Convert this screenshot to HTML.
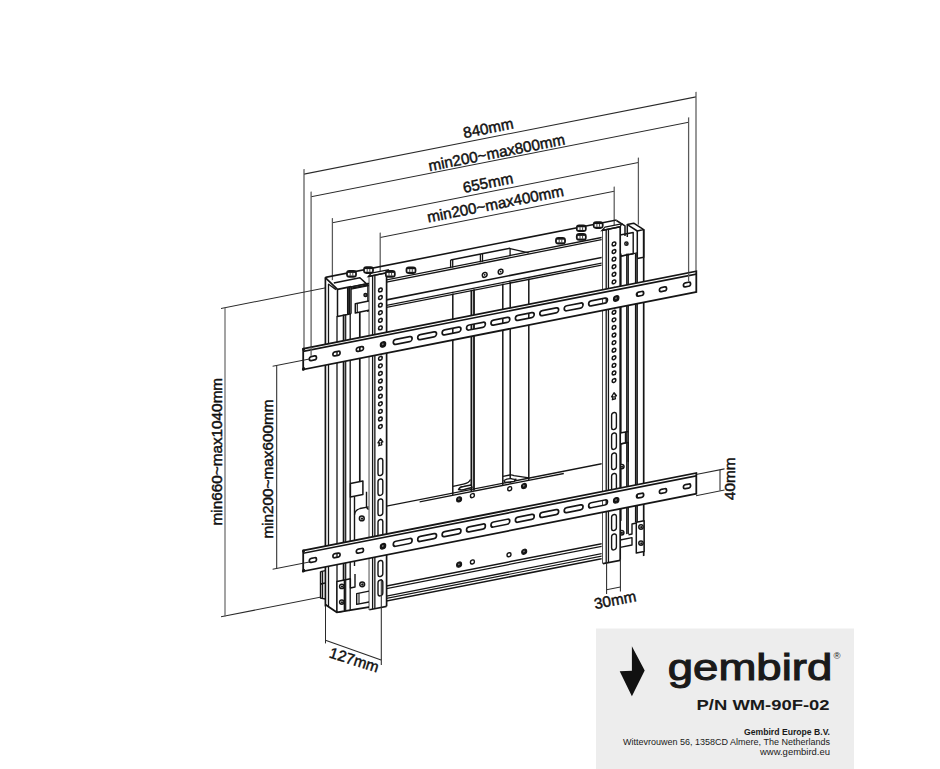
<!DOCTYPE html>
<html><head><meta charset="utf-8"><style>
html,body{margin:0;padding:0;background:#fff;width:940px;height:769px;overflow:hidden}
svg{display:block;font-family:"Liberation Sans",sans-serif}
</style></head><body>
<svg width="940" height="769" viewBox="0 0 940 769">
<rect width="940" height="769" fill="#fff"/>
<g transform="matrix(1,-0.197,0,1,0,0)" fill="none">
<line x1="304.00" y1="234.00" x2="696.00" y2="234.00" stroke="#2a2a2a" stroke-width="1.05"/>
<line x1="304.00" y1="229.00" x2="304.00" y2="408.50" stroke="#5a5a5a" stroke-width="1.25"/>
<line x1="696.00" y1="229.00" x2="696.00" y2="409.00" stroke="#5a5a5a" stroke-width="1.25"/>
<line x1="311.10" y1="258.00" x2="688.60" y2="258.00" stroke="#2a2a2a" stroke-width="1.05"/>
<line x1="311.10" y1="253.00" x2="311.10" y2="417.00" stroke="#5a5a5a" stroke-width="1.25"/>
<line x1="688.60" y1="253.00" x2="688.60" y2="417.00" stroke="#5a5a5a" stroke-width="1.25"/>
<line x1="332.40" y1="288.30" x2="638.40" y2="288.30" stroke="#2a2a2a" stroke-width="1.05"/>
<line x1="332.40" y1="283.50" x2="332.40" y2="345.50" stroke="#5a5a5a" stroke-width="1.25"/>
<line x1="638.40" y1="283.50" x2="638.40" y2="350.40" stroke="#5a5a5a" stroke-width="1.25"/>
<line x1="380.20" y1="312.30" x2="614.20" y2="312.30" stroke="#2a2a2a" stroke-width="1.05"/>
<line x1="380.20" y1="307.50" x2="380.20" y2="362.50" stroke="#5a5a5a" stroke-width="1.25"/>
<line x1="614.20" y1="307.50" x2="614.20" y2="362.50" stroke="#5a5a5a" stroke-width="1.25"/>
<line x1="221.00" y1="352.00" x2="326.00" y2="352.00" stroke="#2a2a2a" stroke-width="1.05"/>
<line x1="221.00" y1="660.30" x2="320.00" y2="660.30" stroke="#2a2a2a" stroke-width="1.05"/>
<line x1="272.60" y1="420.00" x2="303.00" y2="420.00" stroke="#2a2a2a" stroke-width="1.05"/>
<line x1="272.60" y1="623.00" x2="303.00" y2="623.00" stroke="#2a2a2a" stroke-width="1.05"/>
<line x1="696.00" y1="611.60" x2="724.50" y2="611.60" stroke="#2a2a2a" stroke-width="1.05"/>
<line x1="696.00" y1="632.80" x2="724.50" y2="632.80" stroke="#2a2a2a" stroke-width="1.05"/>
<line x1="606.60" y1="709.30" x2="620.40" y2="709.30" stroke="#2a2a2a" stroke-width="1.05"/>
<line x1="325.40" y1="341.50" x2="616.50" y2="341.50" stroke="#151515" stroke-width="1.6"/>
<line x1="351.00" y1="356.00" x2="601.60" y2="356.00" stroke="#151515" stroke-width="1.3"/>
<line x1="351.00" y1="358.20" x2="601.60" y2="358.20" stroke="#151515" stroke-width="1.3"/>
<line x1="386.50" y1="376.00" x2="601.60" y2="376.00" stroke="#151515" stroke-width="1.6"/>
<line x1="386.50" y1="381.60" x2="601.60" y2="381.60" stroke="#151515" stroke-width="1.3"/>
<line x1="386.50" y1="383.60" x2="601.60" y2="383.60" stroke="#151515" stroke-width="1.3"/>
<line x1="450.60" y1="348.70" x2="510.10" y2="348.70" stroke="#151515" stroke-width="1.6"/>
<line x1="450.60" y1="348.70" x2="450.60" y2="356.90" stroke="#151515" stroke-width="1.3"/>
<line x1="452.70" y1="348.70" x2="452.70" y2="356.90" stroke="#151515" stroke-width="1.3"/>
<line x1="480.40" y1="348.70" x2="480.40" y2="356.90" stroke="#151515" stroke-width="1.3"/>
<line x1="482.50" y1="348.70" x2="482.50" y2="356.90" stroke="#151515" stroke-width="1.3"/>
<line x1="510.10" y1="348.70" x2="510.10" y2="356.90" stroke="#151515" stroke-width="1.3"/>
<circle cx="484.70" cy="370.40" r="2.4" fill="#fff" stroke="#151515" stroke-width="1.5"/>
<circle cx="500.60" cy="370.30" r="2.4" fill="#fff" stroke="#151515" stroke-width="1.5"/>
<circle cx="484.7" cy="370.4" r="0.9" fill="#151515"/><circle cx="500.6" cy="370.3" r="0.9" fill="#151515"/>
<line x1="452.80" y1="382.70" x2="452.80" y2="584.00" stroke="#151515" stroke-width="1.5"/>
<line x1="471.40" y1="382.70" x2="471.40" y2="584.00" stroke="#151515" stroke-width="1.8"/>
<line x1="474.00" y1="382.70" x2="474.00" y2="584.00" stroke="#151515" stroke-width="1.8"/>
<line x1="502.80" y1="382.70" x2="502.80" y2="584.00" stroke="#151515" stroke-width="1.5"/>
<line x1="510.20" y1="382.70" x2="510.20" y2="584.00" stroke="#151515" stroke-width="1.5"/>
<line x1="528.80" y1="382.70" x2="528.80" y2="584.00" stroke="#151515" stroke-width="1.5"/>
<line x1="386.50" y1="582.30" x2="601.60" y2="582.30" stroke="#151515" stroke-width="1.4"/>
<line x1="419.60" y1="584.50" x2="563.80" y2="584.50" stroke="#151515" stroke-width="1.4"/>
<circle cx="459.10" cy="589.84" r="2.5" fill="#151515" stroke="#151515" stroke-width="1.2"/>
<circle cx="458.90" cy="589.54" r="0.88" fill="#777"/>
<circle cx="472.40" cy="588.66" r="2.0" fill="#fff" stroke="#151515" stroke-width="1.4"/>
<circle cx="509.70" cy="589.11" r="2.0" fill="#fff" stroke="#151515" stroke-width="1.4"/>
<circle cx="524.00" cy="589.23" r="2.5" fill="#151515" stroke="#151515" stroke-width="1.2"/>
<circle cx="523.80" cy="588.93" r="0.88" fill="#777"/>
<line x1="386.50" y1="662.20" x2="601.60" y2="662.20" stroke="#151515" stroke-width="1.5"/>
<line x1="386.50" y1="664.80" x2="601.60" y2="664.80" stroke="#151515" stroke-width="1.2"/>
<line x1="386.50" y1="672.20" x2="601.60" y2="672.20" stroke="#151515" stroke-width="1.3"/>
<line x1="386.50" y1="674.60" x2="601.60" y2="674.60" stroke="#151515" stroke-width="1.2"/>
<line x1="386.50" y1="677.20" x2="601.60" y2="677.20" stroke="#151515" stroke-width="1.6"/>
<circle cx="459.10" cy="655.00" r="2.5" fill="#151515" stroke="#151515" stroke-width="1.2"/>
<circle cx="458.90" cy="654.70" r="0.88" fill="#777"/>
<circle cx="472.40" cy="655.00" r="2.0" fill="#fff" stroke="#151515" stroke-width="1.4"/>
<circle cx="509.00" cy="655.00" r="2.0" fill="#fff" stroke="#151515" stroke-width="1.4"/>
<circle cx="524.20" cy="655.00" r="2.5" fill="#151515" stroke="#151515" stroke-width="1.2"/>
<circle cx="524.00" cy="654.70" r="0.88" fill="#777"/>
<line x1="325.40" y1="341.30" x2="325.40" y2="670.50" stroke="#151515" stroke-width="1.7"/>
<line x1="328.50" y1="348.71" x2="328.50" y2="671.11" stroke="#151515" stroke-width="1.3"/>
<line x1="337.00" y1="382.39" x2="337.00" y2="677.39" stroke="#151515" stroke-width="1.3"/>
<line x1="343.60" y1="382.19" x2="343.60" y2="678.69" stroke="#151515" stroke-width="1.8"/>
<line x1="345.70" y1="382.60" x2="345.70" y2="679.10" stroke="#151515" stroke-width="1.2"/>
<line x1="359.80" y1="382.88" x2="359.80" y2="554.38" stroke="#151515" stroke-width="1.7"/>
<line x1="350.20" y1="382.99" x2="350.20" y2="679.99" stroke="#151515" stroke-width="1.3"/>
<line x1="620.90" y1="376.02" x2="620.90" y2="643.32" stroke="#151515" stroke-width="1.4"/>
<line x1="626.90" y1="377.20" x2="626.90" y2="657.50" stroke="#151515" stroke-width="1.6"/>
<line x1="628.30" y1="377.48" x2="628.30" y2="657.78" stroke="#151515" stroke-width="1.2"/>
<line x1="635.80" y1="378.95" x2="635.80" y2="647.25" stroke="#151515" stroke-width="1.8"/>
<line x1="637.30" y1="379.25" x2="637.30" y2="647.55" stroke="#151515" stroke-width="1.2"/>
<line x1="643.70" y1="356.41" x2="643.70" y2="682.81" stroke="#151515" stroke-width="1.7"/>
</g>
<path d="M510.1 248.6 L528.7 252.9" fill="none" stroke="#151515" stroke-width="1.3" stroke-linejoin="round"/>
<path d="M453 486.3 L463.4 484.1 Q469 483 470.5 479.5" fill="none" stroke="#151515" stroke-width="1.3" stroke-linejoin="round"/>
<path d="M458.5 489.5 Q460 486.5 463.5 486.5 L471 485 L472 487.5 L466 489 Q462 490.5 458.5 489.5 Z" fill="#fff" stroke="#151515" stroke-width="1.5" stroke-linejoin="round"/>
<path d="M503 476.3 L509.9 475 Q512 474.7 514 475.6 L529 477.9" fill="none" stroke="#151515" stroke-width="1.3" stroke-linejoin="round"/>
<path d="M504 480.5 Q507 478.5 511 478.6 Q513 479.5 516 479.3 L514 481.5 L505 482.5 Z" fill="#fff" stroke="#151515" stroke-width="1.4" stroke-linejoin="round"/>
<path d="M325.3 277.7 L337.5 289.4 L351 286.7" fill="none" stroke="#151515" stroke-width="1.7" stroke-linejoin="round"/>
<path d="M328.3 284 L336 289.6" fill="none" stroke="#151515" stroke-width="1.3" stroke-linejoin="round"/>
<path d="M333.8 283 L359.9 277.7 L367.9 285.1 L351 288.2" fill="none" stroke="#151515" stroke-width="1.5" stroke-linejoin="round"/>
<path d="M337.5 289.4 L337.5 316.5 L351 313.8 M347.7 287.3 L347.7 314.3 M349.3 287 L349.3 314 M351 286.7 L351 313.8" fill="none" stroke="#151515" stroke-width="1.5" stroke-linejoin="round"/>
<path d="M351 286.9 L367.9 283.5 L367.9 312" fill="none" stroke="#151515" stroke-width="1.4" stroke-linejoin="round"/>
<circle cx="365.50" cy="294.90" r="1.5" fill="#fff" stroke="#151515" stroke-width="1.5"/>
<circle cx="365.70" cy="295.10" r="0.75" fill="#151515"/>
<path d="M355.3 303.7 L370 300.7 L370 310 L355.3 313 Z" fill="#fff" stroke="#151515" stroke-width="1.5" stroke-linejoin="round"/>
<path d="M357.3 303.3 L357.3 312.6" fill="none" stroke="#151515" stroke-width="1.1" stroke-linejoin="round"/>
<path d="M350.4 483.5 L362.9 481 L362.9 494.5 L350.4 497 Z" fill="#fff" stroke="#151515" stroke-width="1.5" stroke-linejoin="round"/>
<path d="M354.5 496.5 L354.5 566 M366.5 491.8 L366.5 507.5 L368.5 509.5" fill="none" stroke="#151515" stroke-width="1.4" stroke-linejoin="round"/>
<path d="M354.5 515 Q355 510 360 508.5 L368.6 506.8" fill="none" stroke="#151515" stroke-width="1.3" stroke-linejoin="round"/>
<circle cx="361.80" cy="518.40" r="2.4" fill="#fff" stroke="#151515" stroke-width="1.5"/>
<circle cx="362.00" cy="518.60" r="1.20" fill="#151515"/>
<circle cx="362.20" cy="584.30" r="2.4" fill="#fff" stroke="#151515" stroke-width="1.5"/>
<circle cx="362.40" cy="584.50" r="1.20" fill="#151515"/>
<path d="M325.4 604.5 L328.2 606.4 L336.7 612.3 L344.4 611.1 L370.3 606.8" fill="none" stroke="#151515" stroke-width="1.8" stroke-linejoin="round"/>
<path d="M336.9 581.4 L344.4 579.9 L344.4 611.1 L336.9 612.2 Z" fill="#fff" stroke="#151515" stroke-width="1.5" stroke-linejoin="round"/>
<circle cx="341.80" cy="586.40" r="2.2" fill="#fff" stroke="#151515" stroke-width="1.5"/>
<circle cx="342.00" cy="586.60" r="1.10" fill="#151515"/>
<circle cx="341.80" cy="602.10" r="2.2" fill="#fff" stroke="#151515" stroke-width="1.5"/>
<circle cx="342.00" cy="602.30" r="1.10" fill="#151515"/>
<path d="M344.4 580 L350.4 578.8 L350.4 588 L355 587 L355 574" fill="none" stroke="#151515" stroke-width="1.4" stroke-linejoin="round"/>
<path d="M356.7 593.6 L370.3 590.9 L370.3 601.7 L356.7 604.4 Z" fill="#fff" stroke="#151515" stroke-width="1.4" stroke-linejoin="round"/>
<path d="M359 593.2 L359 604" fill="none" stroke="#151515" stroke-width="1.1" stroke-linejoin="round"/>
<path d="M320.5 571.6 L325.4 570.6 M320.5 571.6 L320.5 598 L325.4 599 M320.5 584 L325.4 583 M322.5 571.5 L322.5 598" fill="none" stroke="#151515" stroke-width="1.4" stroke-linejoin="round"/>
<path d="M616.4 220.5 L625 225.9 L625 236" fill="none" stroke="#151515" stroke-width="1.5" stroke-linejoin="round"/>
<path d="M627.3 224.6 L633.7 223.2 L643.7 229.6 L637.3 231 Z" fill="#fff" stroke="#151515" stroke-width="1.5" stroke-linejoin="round"/>
<path d="M627.3 224.6 L627.3 237 M637.3 231 L637.3 257.3 M643.7 229.6 L643.7 257.3 L637.3 258.6" fill="none" stroke="#151515" stroke-width="1.5" stroke-linejoin="round"/>
<path d="M620 235 L633.2 232.5 L633.2 253.7 L620 256.3" fill="none" stroke="#151515" stroke-width="1.4" stroke-linejoin="round"/>
<circle cx="626.40" cy="243.70" r="1.6" fill="#fff" stroke="#151515" stroke-width="1.5"/>
<circle cx="626.60" cy="243.90" r="0.80" fill="#151515"/>
<path d="M620 256.3 L637.3 252.8" fill="none" stroke="#151515" stroke-width="1.3" stroke-linejoin="round"/>
<path d="M620.2 433 L625.5 432 L625.5 443 L620.2 444 Z" fill="#fff" stroke="#151515" stroke-width="1.4" stroke-linejoin="round"/>
<path d="M620.2 444 L628.3 442.4 L628.3 462 M625.5 432 L628.3 431.5" fill="none" stroke="#151515" stroke-width="1.4" stroke-linejoin="round"/>
<circle cx="621.80" cy="466.60" r="2.2" fill="#fff" stroke="#151515" stroke-width="1.5"/>
<circle cx="622.00" cy="466.80" r="1.10" fill="#151515"/>
<path d="M636.3 522.3 L644.1 520.8 L644.1 551.5 L636.3 553 Z" fill="#fff" stroke="#151515" stroke-width="1.5" stroke-linejoin="round"/>
<circle cx="641.00" cy="527.00" r="2.2" fill="#fff" stroke="#151515" stroke-width="1.5"/>
<circle cx="641.20" cy="527.20" r="1.10" fill="#151515"/>
<circle cx="641.00" cy="543.10" r="2.2" fill="#fff" stroke="#151515" stroke-width="1.5"/>
<circle cx="641.20" cy="543.30" r="1.10" fill="#151515"/>
<path d="M628.5 534.7 L632 534 L632 524 L636.3 523" fill="none" stroke="#151515" stroke-width="1.4" stroke-linejoin="round"/>
<path d="M620.2 540 L632 537.6 L632 545 L620.2 547.4" fill="none" stroke="#151515" stroke-width="1.4" stroke-linejoin="round"/>
<circle cx="621.70" cy="532.70" r="2.2" fill="#fff" stroke="#151515" stroke-width="1.5"/>
<circle cx="621.90" cy="532.90" r="1.10" fill="#151515"/>
<!--arms-->
<g transform="matrix(1,-0.197,0,1,0,0)" fill="none">
<line x1="369.40" y1="349.00" x2="369.40" y2="682.50" stroke="#151515" stroke-width="1.5"/>
<rect x="369.40" y="349.00" width="17.20" height="333.50" rx="0" fill="#fff" stroke="none" stroke-width="0"/>
<line x1="386.60" y1="349.00" x2="386.60" y2="682.50" stroke="#151515" stroke-width="1.7"/>
<line x1="369.40" y1="682.50" x2="386.60" y2="682.50" stroke="#151515" stroke-width="1.7"/>
<line x1="372.60" y1="349.00" x2="372.60" y2="682.50" stroke="#151515" stroke-width="1.3"/>
<line x1="374.85" y1="349.00" x2="374.85" y2="682.50" stroke="#151515" stroke-width="1.3"/>
<circle cx="380.40" cy="364.90" r="1.85" fill="#fff" stroke="#151515" stroke-width="1.55"/>
<circle cx="380.40" cy="372.49" r="1.85" fill="#fff" stroke="#151515" stroke-width="1.55"/>
<circle cx="380.40" cy="380.08" r="1.85" fill="#fff" stroke="#151515" stroke-width="1.55"/>
<circle cx="380.40" cy="387.67" r="1.85" fill="#fff" stroke="#151515" stroke-width="1.55"/>
<circle cx="380.40" cy="395.26" r="1.85" fill="#fff" stroke="#151515" stroke-width="1.55"/>
<circle cx="380.40" cy="402.85" r="1.85" fill="#fff" stroke="#151515" stroke-width="1.55"/>
<circle cx="380.40" cy="410.44" r="1.85" fill="#fff" stroke="#151515" stroke-width="1.55"/>
<circle cx="380.40" cy="418.03" r="1.85" fill="#fff" stroke="#151515" stroke-width="1.55"/>
<circle cx="380.40" cy="425.62" r="1.85" fill="#fff" stroke="#151515" stroke-width="1.55"/>
<circle cx="380.40" cy="433.21" r="1.85" fill="#fff" stroke="#151515" stroke-width="1.55"/>
<circle cx="380.40" cy="440.80" r="1.85" fill="#fff" stroke="#151515" stroke-width="1.55"/>
<circle cx="380.40" cy="448.39" r="1.85" fill="#fff" stroke="#151515" stroke-width="1.55"/>
<circle cx="380.40" cy="455.98" r="1.85" fill="#fff" stroke="#151515" stroke-width="1.55"/>
<circle cx="380.40" cy="463.57" r="1.85" fill="#fff" stroke="#151515" stroke-width="1.55"/>
<circle cx="380.40" cy="471.16" r="1.85" fill="#fff" stroke="#151515" stroke-width="1.55"/>
<circle cx="380.40" cy="478.75" r="1.85" fill="#fff" stroke="#151515" stroke-width="1.55"/>
<circle cx="380.40" cy="486.34" r="1.85" fill="#fff" stroke="#151515" stroke-width="1.55"/>
<circle cx="380.40" cy="493.93" r="1.85" fill="#fff" stroke="#151515" stroke-width="1.55"/>
<circle cx="380.40" cy="501.52" r="1.85" fill="#fff" stroke="#151515" stroke-width="1.55"/>
<path d="M380.40 513.8 L382.80 517.3 L381.30 517.6 L381.80 520 L378.80 520.3 L379.50 517.6 L378.00 517.3 Z" fill="#fff" stroke="#151515" stroke-width="1.4" stroke-linejoin="round"/>
<rect x="378.00" y="533.50" width="4.8" height="17.00" rx="2.4" fill="#fff" stroke="#151515" stroke-width="1.4"/>
<rect x="378.00" y="554.00" width="4.8" height="16.30" rx="2.4" fill="#fff" stroke="#151515" stroke-width="1.4"/>
<rect x="378.00" y="574.00" width="4.8" height="16.50" rx="2.4" fill="#fff" stroke="#151515" stroke-width="1.4"/>
<rect x="378.00" y="594.50" width="4.8" height="17.50" rx="2.4" fill="#fff" stroke="#151515" stroke-width="1.4"/>
<rect x="378.00" y="635.50" width="4.8" height="16.00" rx="2.4" fill="#fff" stroke="#151515" stroke-width="1.4"/>
<rect x="378.00" y="655.00" width="4.8" height="15.80" rx="2.4" fill="#fff" stroke="#151515" stroke-width="1.4"/>
<path d="M368.40 349 L371.40 346.3 L388.00 346.3 L386.60 349 Z" fill="#fff" stroke="#151515" stroke-width="1.4"/>
<line x1="368.40" y1="349.00" x2="386.60" y2="349.00" stroke="#151515" stroke-width="1.5"/>
<line x1="603.00" y1="349.00" x2="603.00" y2="682.50" stroke="#151515" stroke-width="1.5"/>
<line x1="604.30" y1="349.00" x2="604.30" y2="682.50" stroke="#151515" stroke-width="1.0"/>
<rect x="603.00" y="349.00" width="17.20" height="333.50" rx="0" fill="#fff" stroke="none" stroke-width="0"/>
<line x1="620.20" y1="349.00" x2="620.20" y2="682.50" stroke="#151515" stroke-width="1.7"/>
<line x1="603.00" y1="682.50" x2="620.20" y2="682.50" stroke="#151515" stroke-width="1.7"/>
<line x1="606.20" y1="349.00" x2="606.20" y2="682.50" stroke="#151515" stroke-width="1.3"/>
<line x1="608.45" y1="349.00" x2="608.45" y2="682.50" stroke="#151515" stroke-width="1.3"/>
<circle cx="614.00" cy="364.90" r="1.85" fill="#fff" stroke="#151515" stroke-width="1.55"/>
<circle cx="614.00" cy="372.49" r="1.85" fill="#fff" stroke="#151515" stroke-width="1.55"/>
<circle cx="614.00" cy="380.08" r="1.85" fill="#fff" stroke="#151515" stroke-width="1.55"/>
<circle cx="614.00" cy="387.67" r="1.85" fill="#fff" stroke="#151515" stroke-width="1.55"/>
<circle cx="614.00" cy="395.26" r="1.85" fill="#fff" stroke="#151515" stroke-width="1.55"/>
<circle cx="614.00" cy="402.85" r="1.85" fill="#fff" stroke="#151515" stroke-width="1.55"/>
<circle cx="614.00" cy="410.44" r="1.85" fill="#fff" stroke="#151515" stroke-width="1.55"/>
<circle cx="614.00" cy="418.03" r="1.85" fill="#fff" stroke="#151515" stroke-width="1.55"/>
<circle cx="614.00" cy="425.62" r="1.85" fill="#fff" stroke="#151515" stroke-width="1.55"/>
<circle cx="614.00" cy="433.21" r="1.85" fill="#fff" stroke="#151515" stroke-width="1.55"/>
<circle cx="614.00" cy="440.80" r="1.85" fill="#fff" stroke="#151515" stroke-width="1.55"/>
<circle cx="614.00" cy="448.39" r="1.85" fill="#fff" stroke="#151515" stroke-width="1.55"/>
<circle cx="614.00" cy="455.98" r="1.85" fill="#fff" stroke="#151515" stroke-width="1.55"/>
<circle cx="614.00" cy="463.57" r="1.85" fill="#fff" stroke="#151515" stroke-width="1.55"/>
<circle cx="614.00" cy="471.16" r="1.85" fill="#fff" stroke="#151515" stroke-width="1.55"/>
<circle cx="614.00" cy="478.75" r="1.85" fill="#fff" stroke="#151515" stroke-width="1.55"/>
<circle cx="614.00" cy="486.34" r="1.85" fill="#fff" stroke="#151515" stroke-width="1.55"/>
<circle cx="614.00" cy="493.93" r="1.85" fill="#fff" stroke="#151515" stroke-width="1.55"/>
<circle cx="614.00" cy="501.52" r="1.85" fill="#fff" stroke="#151515" stroke-width="1.55"/>
<path d="M614.00 513.8 L616.40 517.3 L614.90 517.6 L615.40 520 L612.40 520.3 L613.10 517.6 L611.60 517.3 Z" fill="#fff" stroke="#151515" stroke-width="1.4" stroke-linejoin="round"/>
<rect x="611.60" y="533.50" width="4.8" height="17.00" rx="2.4" fill="#fff" stroke="#151515" stroke-width="1.4"/>
<rect x="611.60" y="554.00" width="4.8" height="16.30" rx="2.4" fill="#fff" stroke="#151515" stroke-width="1.4"/>
<rect x="611.60" y="574.00" width="4.8" height="16.50" rx="2.4" fill="#fff" stroke="#151515" stroke-width="1.4"/>
<rect x="611.60" y="594.50" width="4.8" height="17.50" rx="2.4" fill="#fff" stroke="#151515" stroke-width="1.4"/>
<rect x="611.60" y="635.50" width="4.8" height="16.00" rx="2.4" fill="#fff" stroke="#151515" stroke-width="1.4"/>
<rect x="611.60" y="655.00" width="4.8" height="15.80" rx="2.4" fill="#fff" stroke="#151515" stroke-width="1.4"/>
<path d="M602.00 349 L605.00 346.3 L621.60 346.3 L620.20 349 Z" fill="#fff" stroke="#151515" stroke-width="1.4"/>
<line x1="602.00" y1="349.00" x2="620.20" y2="349.00" stroke="#151515" stroke-width="1.5"/>
<path d="M303.2 408.40 H696.3 V429.20 H303.2 Z M311.30 417.90 h3.20 a2.00 2.00 0 0 1 0 4.00 h-3.20 a2.00 2.00 0 0 1 0 -4.00 Z M334.90 417.90 h3.20 a2.00 2.00 0 0 1 0 4.00 h-3.20 a2.00 2.00 0 0 1 0 -4.00 Z M358.30 417.90 h3.20 a2.00 2.00 0 0 1 0 4.00 h-3.20 a2.00 2.00 0 0 1 0 -4.00 Z M638.50 417.90 h3.20 a2.00 2.00 0 0 1 0 4.00 h-3.20 a2.00 2.00 0 0 1 0 -4.00 Z M661.40 417.90 h3.20 a2.00 2.00 0 0 1 0 4.00 h-3.20 a2.00 2.00 0 0 1 0 -4.00 Z M685.40 417.90 h3.20 a2.00 2.00 0 0 1 0 4.00 h-3.20 a2.00 2.00 0 0 1 0 -4.00 Z M395.80 417.40 h13.80 a2.50 2.50 0 0 1 0 5.00 h-13.80 a2.50 2.50 0 0 1 0 -5.00 Z M420.22 417.40 h13.80 a2.50 2.50 0 0 1 0 5.00 h-13.80 a2.50 2.50 0 0 1 0 -5.00 Z M444.64 417.40 h13.80 a2.50 2.50 0 0 1 0 5.00 h-13.80 a2.50 2.50 0 0 1 0 -5.00 Z M469.06 417.40 h13.80 a2.50 2.50 0 0 1 0 5.00 h-13.80 a2.50 2.50 0 0 1 0 -5.00 Z M493.48 417.40 h13.80 a2.50 2.50 0 0 1 0 5.00 h-13.80 a2.50 2.50 0 0 1 0 -5.00 Z M517.90 417.40 h13.80 a2.50 2.50 0 0 1 0 5.00 h-13.80 a2.50 2.50 0 0 1 0 -5.00 Z M542.32 417.40 h13.80 a2.50 2.50 0 0 1 0 5.00 h-13.80 a2.50 2.50 0 0 1 0 -5.00 Z M566.74 417.40 h13.80 a2.50 2.50 0 0 1 0 5.00 h-13.80 a2.50 2.50 0 0 1 0 -5.00 Z M591.16 417.40 h13.80 a2.50 2.50 0 0 1 0 5.00 h-13.80 a2.50 2.50 0 0 1 0 -5.00 Z " fill="#fff" fill-rule="evenodd" stroke="none"/>
<path d="M303.2 408.40 H696.3 V429.20 H303.2 Z " fill="none" stroke="#151515" stroke-width="1.8"/>
<path d="M311.30 417.90 h3.20 a2.00 2.00 0 0 1 0 4.00 h-3.20 a2.00 2.00 0 0 1 0 -4.00 Z M334.90 417.90 h3.20 a2.00 2.00 0 0 1 0 4.00 h-3.20 a2.00 2.00 0 0 1 0 -4.00 Z M358.30 417.90 h3.20 a2.00 2.00 0 0 1 0 4.00 h-3.20 a2.00 2.00 0 0 1 0 -4.00 Z M638.50 417.90 h3.20 a2.00 2.00 0 0 1 0 4.00 h-3.20 a2.00 2.00 0 0 1 0 -4.00 Z M661.40 417.90 h3.20 a2.00 2.00 0 0 1 0 4.00 h-3.20 a2.00 2.00 0 0 1 0 -4.00 Z M685.40 417.90 h3.20 a2.00 2.00 0 0 1 0 4.00 h-3.20 a2.00 2.00 0 0 1 0 -4.00 Z M395.80 417.40 h13.80 a2.50 2.50 0 0 1 0 5.00 h-13.80 a2.50 2.50 0 0 1 0 -5.00 Z M420.22 417.40 h13.80 a2.50 2.50 0 0 1 0 5.00 h-13.80 a2.50 2.50 0 0 1 0 -5.00 Z M444.64 417.40 h13.80 a2.50 2.50 0 0 1 0 5.00 h-13.80 a2.50 2.50 0 0 1 0 -5.00 Z M469.06 417.40 h13.80 a2.50 2.50 0 0 1 0 5.00 h-13.80 a2.50 2.50 0 0 1 0 -5.00 Z M493.48 417.40 h13.80 a2.50 2.50 0 0 1 0 5.00 h-13.80 a2.50 2.50 0 0 1 0 -5.00 Z M517.90 417.40 h13.80 a2.50 2.50 0 0 1 0 5.00 h-13.80 a2.50 2.50 0 0 1 0 -5.00 Z M542.32 417.40 h13.80 a2.50 2.50 0 0 1 0 5.00 h-13.80 a2.50 2.50 0 0 1 0 -5.00 Z M566.74 417.40 h13.80 a2.50 2.50 0 0 1 0 5.00 h-13.80 a2.50 2.50 0 0 1 0 -5.00 Z M591.16 417.40 h13.80 a2.50 2.50 0 0 1 0 5.00 h-13.80 a2.50 2.50 0 0 1 0 -5.00 Z " fill="none" stroke="#151515" stroke-width="1.7"/>
<line x1="303.20" y1="411.20" x2="696.30" y2="411.20" stroke="#151515" stroke-width="1.7"/>
<circle cx="383.00" cy="419.90" r="2.7" fill="#151515" stroke="#151515" stroke-width="1.2"/>
<circle cx="382.80" cy="419.60" r="0.94" fill="#777"/>
<circle cx="616.20" cy="419.90" r="2.7" fill="#151515" stroke="#151515" stroke-width="1.2"/>
<circle cx="616.00" cy="419.60" r="0.94" fill="#777"/>
<circle cx="303.6" cy="409.00" r="1.5" fill="#151515"/>
<circle cx="303.6" cy="428.80" r="1.7" fill="#151515"/>
<path d="M303.2 610.20 H696.3 V631.00 H303.2 Z M311.30 619.70 h3.20 a2.00 2.00 0 0 1 0 4.00 h-3.20 a2.00 2.00 0 0 1 0 -4.00 Z M334.90 619.70 h3.20 a2.00 2.00 0 0 1 0 4.00 h-3.20 a2.00 2.00 0 0 1 0 -4.00 Z M358.30 619.70 h3.20 a2.00 2.00 0 0 1 0 4.00 h-3.20 a2.00 2.00 0 0 1 0 -4.00 Z M638.50 619.70 h3.20 a2.00 2.00 0 0 1 0 4.00 h-3.20 a2.00 2.00 0 0 1 0 -4.00 Z M661.40 619.70 h3.20 a2.00 2.00 0 0 1 0 4.00 h-3.20 a2.00 2.00 0 0 1 0 -4.00 Z M685.40 619.70 h3.20 a2.00 2.00 0 0 1 0 4.00 h-3.20 a2.00 2.00 0 0 1 0 -4.00 Z M395.80 619.20 h13.80 a2.50 2.50 0 0 1 0 5.00 h-13.80 a2.50 2.50 0 0 1 0 -5.00 Z M420.22 619.20 h13.80 a2.50 2.50 0 0 1 0 5.00 h-13.80 a2.50 2.50 0 0 1 0 -5.00 Z M444.64 619.20 h13.80 a2.50 2.50 0 0 1 0 5.00 h-13.80 a2.50 2.50 0 0 1 0 -5.00 Z M469.06 619.20 h13.80 a2.50 2.50 0 0 1 0 5.00 h-13.80 a2.50 2.50 0 0 1 0 -5.00 Z M493.48 619.20 h13.80 a2.50 2.50 0 0 1 0 5.00 h-13.80 a2.50 2.50 0 0 1 0 -5.00 Z M517.90 619.20 h13.80 a2.50 2.50 0 0 1 0 5.00 h-13.80 a2.50 2.50 0 0 1 0 -5.00 Z M542.32 619.20 h13.80 a2.50 2.50 0 0 1 0 5.00 h-13.80 a2.50 2.50 0 0 1 0 -5.00 Z M566.74 619.20 h13.80 a2.50 2.50 0 0 1 0 5.00 h-13.80 a2.50 2.50 0 0 1 0 -5.00 Z M591.16 619.20 h13.80 a2.50 2.50 0 0 1 0 5.00 h-13.80 a2.50 2.50 0 0 1 0 -5.00 Z " fill="#fff" fill-rule="evenodd" stroke="none"/>
<path d="M303.2 610.20 H696.3 V631.00 H303.2 Z " fill="none" stroke="#151515" stroke-width="1.8"/>
<path d="M311.30 619.70 h3.20 a2.00 2.00 0 0 1 0 4.00 h-3.20 a2.00 2.00 0 0 1 0 -4.00 Z M334.90 619.70 h3.20 a2.00 2.00 0 0 1 0 4.00 h-3.20 a2.00 2.00 0 0 1 0 -4.00 Z M358.30 619.70 h3.20 a2.00 2.00 0 0 1 0 4.00 h-3.20 a2.00 2.00 0 0 1 0 -4.00 Z M638.50 619.70 h3.20 a2.00 2.00 0 0 1 0 4.00 h-3.20 a2.00 2.00 0 0 1 0 -4.00 Z M661.40 619.70 h3.20 a2.00 2.00 0 0 1 0 4.00 h-3.20 a2.00 2.00 0 0 1 0 -4.00 Z M685.40 619.70 h3.20 a2.00 2.00 0 0 1 0 4.00 h-3.20 a2.00 2.00 0 0 1 0 -4.00 Z M395.80 619.20 h13.80 a2.50 2.50 0 0 1 0 5.00 h-13.80 a2.50 2.50 0 0 1 0 -5.00 Z M420.22 619.20 h13.80 a2.50 2.50 0 0 1 0 5.00 h-13.80 a2.50 2.50 0 0 1 0 -5.00 Z M444.64 619.20 h13.80 a2.50 2.50 0 0 1 0 5.00 h-13.80 a2.50 2.50 0 0 1 0 -5.00 Z M469.06 619.20 h13.80 a2.50 2.50 0 0 1 0 5.00 h-13.80 a2.50 2.50 0 0 1 0 -5.00 Z M493.48 619.20 h13.80 a2.50 2.50 0 0 1 0 5.00 h-13.80 a2.50 2.50 0 0 1 0 -5.00 Z M517.90 619.20 h13.80 a2.50 2.50 0 0 1 0 5.00 h-13.80 a2.50 2.50 0 0 1 0 -5.00 Z M542.32 619.20 h13.80 a2.50 2.50 0 0 1 0 5.00 h-13.80 a2.50 2.50 0 0 1 0 -5.00 Z M566.74 619.20 h13.80 a2.50 2.50 0 0 1 0 5.00 h-13.80 a2.50 2.50 0 0 1 0 -5.00 Z M591.16 619.20 h13.80 a2.50 2.50 0 0 1 0 5.00 h-13.80 a2.50 2.50 0 0 1 0 -5.00 Z " fill="none" stroke="#151515" stroke-width="1.7"/>
<line x1="303.20" y1="613.00" x2="696.30" y2="613.00" stroke="#151515" stroke-width="1.7"/>
<circle cx="383.00" cy="621.70" r="2.7" fill="#151515" stroke="#151515" stroke-width="1.2"/>
<circle cx="382.80" cy="621.40" r="0.94" fill="#777"/>
<circle cx="616.20" cy="621.70" r="2.7" fill="#151515" stroke="#151515" stroke-width="1.2"/>
<circle cx="616.00" cy="621.40" r="0.94" fill="#777"/>
<circle cx="303.6" cy="610.80" r="1.5" fill="#151515"/>
<circle cx="303.6" cy="630.60" r="1.7" fill="#151515"/>
<line x1="311.10" y1="408.40" x2="311.10" y2="417.20" stroke="#5a5a5a" stroke-width="1.25"/>
<line x1="688.60" y1="408.40" x2="688.60" y2="417.20" stroke="#5a5a5a" stroke-width="1.25"/>
<line x1="303.20" y1="420.00" x2="309.30" y2="420.00" stroke="#2a2a2a" stroke-width="1.05"/>
<line x1="303.20" y1="623.00" x2="309.30" y2="623.00" stroke="#2a2a2a" stroke-width="1.05"/>
</g>
<rect x="346.10" y="270.10" width="10.8" height="7.6" rx="3.3" fill="#151515"/>
<rect x="347.90" y="272.90" width="7.2" height="2.6" fill="#fff"/>
<path d="M350.20 272.90 v2.6 M352.80 272.90 v2.6" stroke="#151515" stroke-width="0.8"/>
<rect x="363.10" y="266.30" width="10.8" height="7.6" rx="3.3" fill="#151515"/>
<rect x="364.90" y="269.10" width="7.2" height="2.6" fill="#fff"/>
<path d="M367.20 269.10 v2.6 M369.80 269.10 v2.6" stroke="#151515" stroke-width="0.8"/>
<rect x="384.90" y="270.10" width="10.8" height="7.6" rx="3.3" fill="#151515"/>
<rect x="386.70" y="272.90" width="7.2" height="2.6" fill="#fff"/>
<path d="M389.00 272.90 v2.6 M391.60 272.90 v2.6" stroke="#151515" stroke-width="0.8"/>
<rect x="405.60" y="266.40" width="10.8" height="7.6" rx="3.3" fill="#151515"/>
<rect x="407.40" y="269.20" width="7.2" height="2.6" fill="#fff"/>
<path d="M409.70 269.20 v2.6 M412.30 269.20 v2.6" stroke="#151515" stroke-width="0.8"/>
<rect x="555.10" y="236.90" width="10.8" height="7.6" rx="3.3" fill="#151515"/>
<rect x="556.90" y="239.70" width="7.2" height="2.6" fill="#fff"/>
<path d="M559.20 239.70 v2.6 M561.80 239.70 v2.6" stroke="#151515" stroke-width="0.8"/>
<rect x="575.90" y="224.50" width="10.8" height="7.6" rx="3.3" fill="#151515"/>
<rect x="577.70" y="227.30" width="7.2" height="2.6" fill="#fff"/>
<path d="M580.00 227.30 v2.6 M582.60 227.30 v2.6" stroke="#151515" stroke-width="0.8"/>
<rect x="575.90" y="233.10" width="10.8" height="7.6" rx="3.3" fill="#151515"/>
<rect x="577.70" y="235.90" width="7.2" height="2.6" fill="#fff"/>
<path d="M580.00 235.90 v2.6 M582.60 235.90 v2.6" stroke="#151515" stroke-width="0.8"/>
<rect x="592.80" y="221.30" width="10.8" height="7.6" rx="3.3" fill="#151515"/>
<rect x="594.60" y="224.10" width="7.2" height="2.6" fill="#fff"/>
<path d="M596.90 224.10 v2.6 M599.50 224.10 v2.6" stroke="#151515" stroke-width="0.8"/>

<g stroke="#2a2a2a" stroke-width="1.05" fill="none">
<line x1="225" y1="307.8" x2="225" y2="616.5" stroke="#666" stroke-width="1.2"/>
<line x1="276.7" y1="366" x2="276.7" y2="568.5"/>
<line x1="720" y1="469.8" x2="720" y2="490.4"/>
<line x1="606.6" y1="562" x2="606.6" y2="594"/>
<line x1="620.4" y1="559" x2="620.4" y2="591.5"/>
<line x1="325.5" y1="606" x2="325.5" y2="643.4"/>
<line x1="381.3" y1="579" x2="381.3" y2="665"/>
<line x1="325.5" y1="640.2" x2="381.1" y2="660"/>
</g>

<g fill="#111" stroke="#111" stroke-width="0.45">
<text font-size="15.3" transform="translate(464.3,138.2) rotate(-11.145)">840mm</text>
<text font-size="15.3" transform="translate(429.4,171.2) rotate(-11.145)">min200~max800mm</text>
<text font-size="15.3" transform="translate(463.9,192.9) rotate(-11.145)">655mm</text>
<text font-size="15.3" transform="translate(428.2,222.6) rotate(-11.145)">min200~max400mm</text>
<text font-size="15.3" transform="translate(221.6,525.4) rotate(-90)">min660~max1040mm</text>
<text font-size="15.3" transform="translate(273.1,538.6) rotate(-90)">min200~max600mm</text>
<text font-size="15.3" transform="translate(735.1,499.9) rotate(-90)">40mm</text>
<text font-size="15.3" transform="translate(595.2,609.2) rotate(-11.145)">30mm</text>
<text font-size="15.3" transform="translate(328.3,657.3) rotate(17.5)">127mm</text>
</g>

<rect x="596" y="628.5" width="258" height="141" fill="#ededed"/>
<path d="M631.9 646.2 L644.7 670.6 L631.9 696.2 L619.7 671.2 L631.9 670.8 Z" fill="#111"/>
<text x="667.8" y="680" font-size="37.5" fill="#1a1a1a" stroke="#1a1a1a" stroke-width="1.1" textLength="164.5" lengthAdjust="spacingAndGlyphs">gembird</text>
<text x="833.5" y="659" font-size="9.5" fill="#1a1a1a">®</text>
<text x="829.6" y="709.6" text-anchor="end" font-weight="bold" font-size="15" fill="#1a1a1a" textLength="133" lengthAdjust="spacingAndGlyphs">P/N WM-90F-02</text>
<text x="830" y="734.5" text-anchor="end" font-weight="bold" font-size="8.5" fill="#1a1a1a" textLength="86" lengthAdjust="spacingAndGlyphs">Gembird Europe B.V.</text>
<text x="830" y="744.7" text-anchor="end" font-size="8.5" fill="#1a1a1a" textLength="207" lengthAdjust="spacingAndGlyphs">Wittevrouwen 56, 1358CD Almere, The Netherlands</text>
<text x="830" y="755.2" text-anchor="end" font-size="8.5" fill="#1a1a1a" textLength="70" lengthAdjust="spacingAndGlyphs">www.gembird.eu</text>

</svg>
</body></html>
